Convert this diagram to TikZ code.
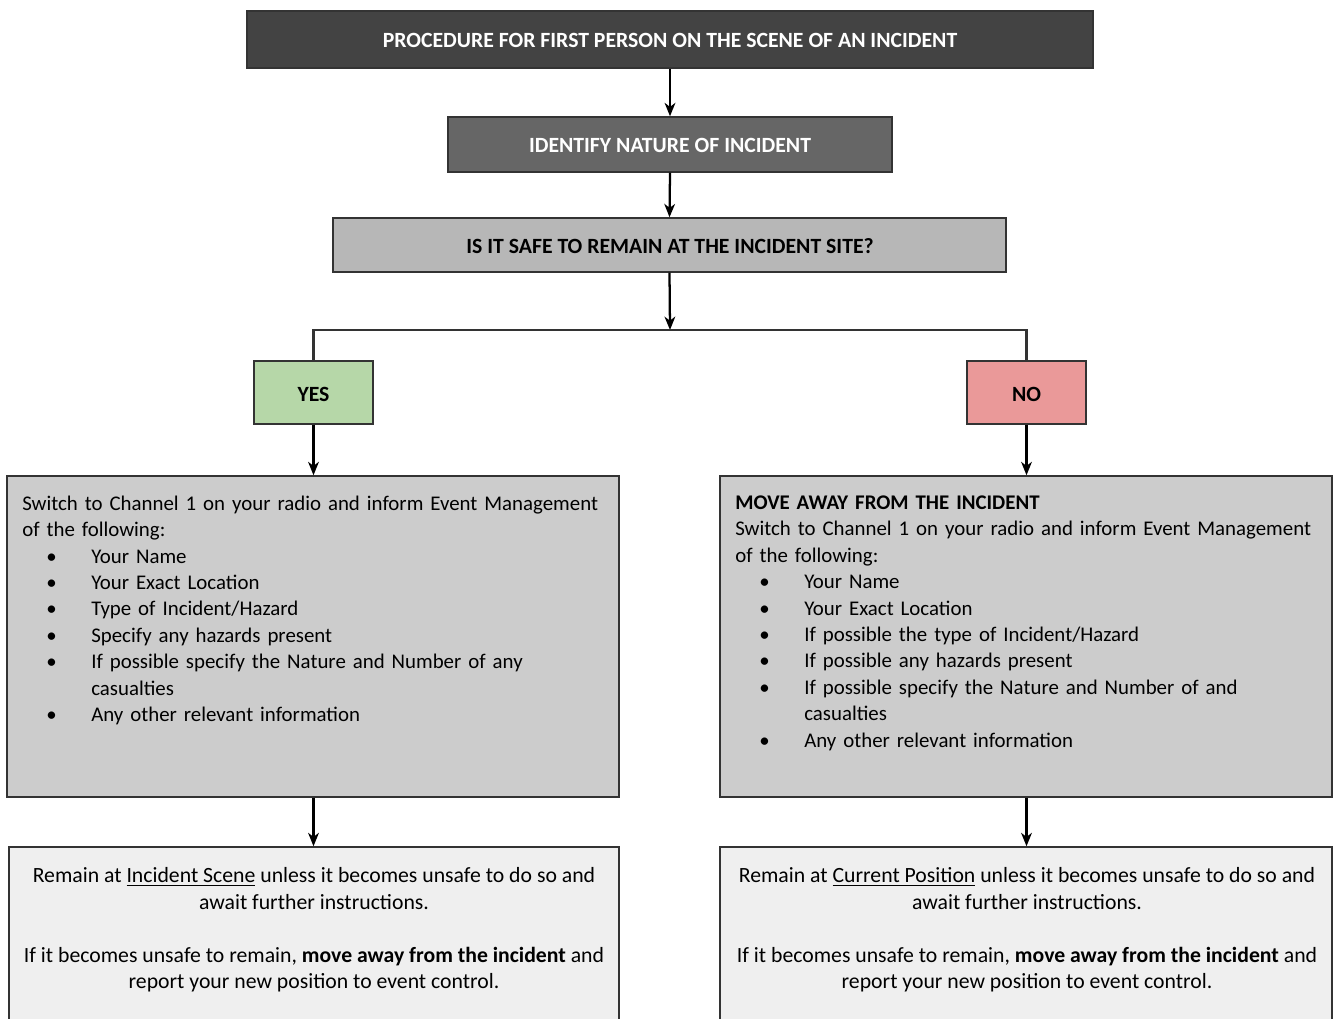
\documentclass[tikz,border=0pt]{standalone}
\usepackage{fontspec}
\setmainfont{Carlito}
\usetikzlibrary{arrows.meta}
\definecolor{cTitle}{HTML}{434343}
\definecolor{cIdent}{HTML}{666666}
\definecolor{cSafe}{HTML}{B7B7B7}
\definecolor{cYes}{HTML}{B6D7A8}
\definecolor{cNo}{HTML}{EA9999}
\definecolor{cMid}{HTML}{CCCCCC}
\definecolor{cLow}{HTML}{EFEFEF}
\newcommand\bl{\hspace*{18pt}\makebox[33.75pt][l]{\textbullet}}
\newcommand\hang{\hspace*{51.75pt}}
\begin{document}
\begin{tikzpicture}[x=0.75pt,y=-0.75pt,
  box/.style={draw=black!80, line width=1.1pt, inner sep=0pt, rectangle},
  arr/.style={-{Stealth[length=10pt,width=8pt,inset=3pt]}, line width=1.7pt},
  bar/.style={line width=2pt, draw=black!80},
  txt/.style={font=\fontsize{15.65}{19.8}\selectfont, inner sep=0pt},
  btxt/.style={font=\fontsize{16.3}{19.8}\selectfont, inner sep=0pt},
  htxt/.style={font=\fontsize{16.3}{19.8}\selectfont\bfseries, inner sep=0pt},
]
\useasboundingbox (0,0) rectangle (1333,1019);
\clip (0,0) rectangle (1333,1019);

% boxes
\node[box, fill=cTitle, minimum width=634.5pt, minimum height=42.75pt] (title) at (670,39.5) {};
\node[htxt, text=white] (titleT) at (670,40.5) {PROCEDURE FOR FIRST PERSON ON THE SCENE OF AN INCIDENT};

\node[box, fill=cIdent, minimum width=333pt, minimum height=41.25pt] (ident) at (670,144.5) {};
\node[htxt, text=white] (identT) at (670,145.5) {IDENTIFY NATURE OF INCIDENT};

\node[box, fill=cSafe, minimum width=504.75pt, minimum height=40.5pt] (safe) at (669.5,245) {};
\node[htxt] (safeT) at (670,246.5) {IS IT SAFE TO REMAIN AT THE INCIDENT SITE?};

\node[box, fill=cYes, minimum width=89.25pt, minimum height=47.25pt] (yes) at (313.5,392.5) {};
\node[htxt] (yesT) at (313.5,394) {YES};

\node[box, fill=cNo, minimum width=89.25pt, minimum height=47.25pt] (no) at (1026.5,392.5) {};
\node[htxt] (noT) at (1026.5,394) {NO};

\node[box, fill=cMid, minimum width=459pt, minimum height=240.75pt] (lbox) at (313,636.5) {};
\node[box, fill=cMid, minimum width=459pt, minimum height=240.75pt] (rbox) at (1026,636.5) {};

\node[box, fill=cLow, minimum width=457.5pt, minimum height=137.25pt] (lbot) at (314,938.5) {};
\node[box, fill=cLow, minimum width=459pt, minimum height=137.25pt] (rbot) at (1026,938.5) {};

% texts in big boxes
\node[txt, anchor=north west, text width=480pt, align=left] (lboxT) at (22,495.5) {%
Switch to Channel 1 on your radio and inform Event Management\\
of the following:\\
\bl Your Name\\
\bl Your Exact Location\\
\bl Type of Incident/Hazard\\
\bl Specify any hazards present\\
\bl If possible specify the Nature and Number of any\\
\hang casualties\\
\bl Any other relevant information};

\node[txt, anchor=north west, text width=480pt, align=left] (rboxT) at (735,495.5) {%
\textbf{MOVE AWAY FROM THE INCIDENT}\\
Switch to Channel 1 on your radio and inform Event Management\\
of the following:\\
\bl Your Name\\
\bl Your Exact Location\\
\bl If possible the type of Incident/Hazard\\
\bl If possible any hazards present\\
\bl If possible specify the Nature and Number of and\\
\hang casualties\\
\bl Any other relevant information};

\node[btxt, anchor=north, align=center] (lbotT) at (314,867.5) {%
Remain at \underline{Incident Scene} unless it becomes unsafe to do so and\\
await further instructions.\\[19.8pt]
If it becomes unsafe to remain, \textbf{move away from the incident} and\\
report your new position to event control.};

\node[btxt, anchor=north, align=center] (rbotT) at (1027,867.5) {%
Remain at \underline{Current Position} unless it becomes unsafe to do so and\\
await further instructions.\\[19.8pt]
If it becomes unsafe to remain, \textbf{move away from the incident} and\\
report your new position to event control.};

% connectors
\coordinate (jn) at (670,330);
\coordinate (barL) at (313.5,330);
\coordinate (barR) at (1026.5,330);
\draw[arr] (title.south) -- (ident.north);
\draw[arr] (ident.south) -- (safe.north);
\draw[arr] (safe.south) -- (jn);
\draw[bar] (yes.north) -- (barL) -- (barR) -- (no.north);
\draw[arr] (yes.south) -- (yes.south |- lbox.north);
\draw[arr] (no.south) -- (no.south |- rbox.north);
\draw[arr] (lbox.south -| yes.south) -- (yes.south |- lbot.north);
\draw[arr] (rbox.south -| no.south) -- (no.south |- rbot.north);
\end{tikzpicture}
\end{document}
